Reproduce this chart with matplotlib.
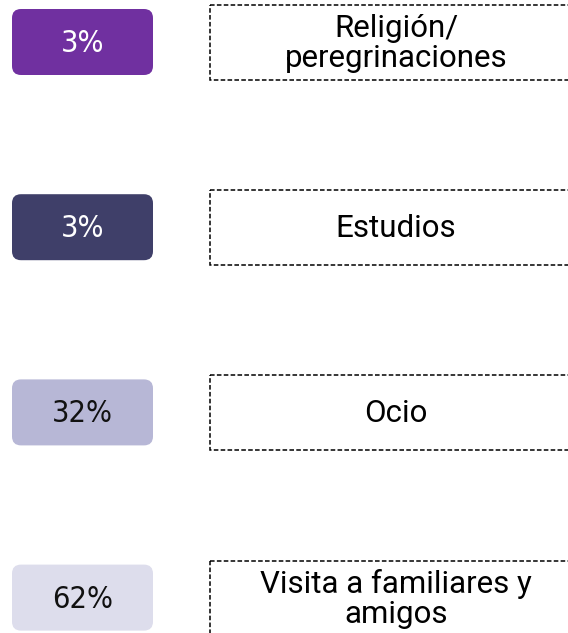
import matplotlib
matplotlib.use("Agg")
import matplotlib.pyplot as plt
from matplotlib.patches import FancyBboxPatch, Rectangle

# datos
motivos = ['Religión/\nperegrinaciones', 'Estudios', 'Ocio', 'Visita a familiares y\namigos']
porcentajes = [3, 3, 32, 62]
colores = ['#7030A0', '#3F3F69', '#B7B7D6', '#DDDDEC']
color_texto = ['white', 'white', '#111111', '#111111']

W, H = 568, 633
fig = plt.figure(figsize=(W / 100, H / 100), dpi=100)
ax = fig.add_axes([0, 0, 1, 1])
ax.set_xlim(0, W)
ax.set_ylim(H, 0)
ax.axis('off')

y0, paso = 42.5, 185.2
r = 9
for i, (m, p, c, tc) in enumerate(zip(motivos, porcentajes, colores, color_texto)):
    yc = y0 + i * paso
    # caja del porcentaje
    caja = FancyBboxPatch((12 + r, yc - 33.5 + r), 141 - 2 * r, 66 - 2 * r,
                          boxstyle='round,pad=%d' % r, fc=c, ec='none')
    ax.add_patch(caja)
    ax.text(82.5, yc + 1, '%d%%' % p, ha='center', va='center', color=tc,
            fontsize=22, family='DejaVu Sans', fontstretch='condensed',
            fontweight='normal')
    # caja del motivo (discontinua)
    ax.add_patch(Rectangle((210, yc - 37.5), 400, 75, fill=False, ec='black',
                           lw=1.1, ls=(0, (3, 1.5))))
    ax.text(396, yc + 1, m, ha='center', va='center', fontsize=22.5,
            family='Roboto', linespacing=1.05)

fig.savefig('out.png', dpi=100)
